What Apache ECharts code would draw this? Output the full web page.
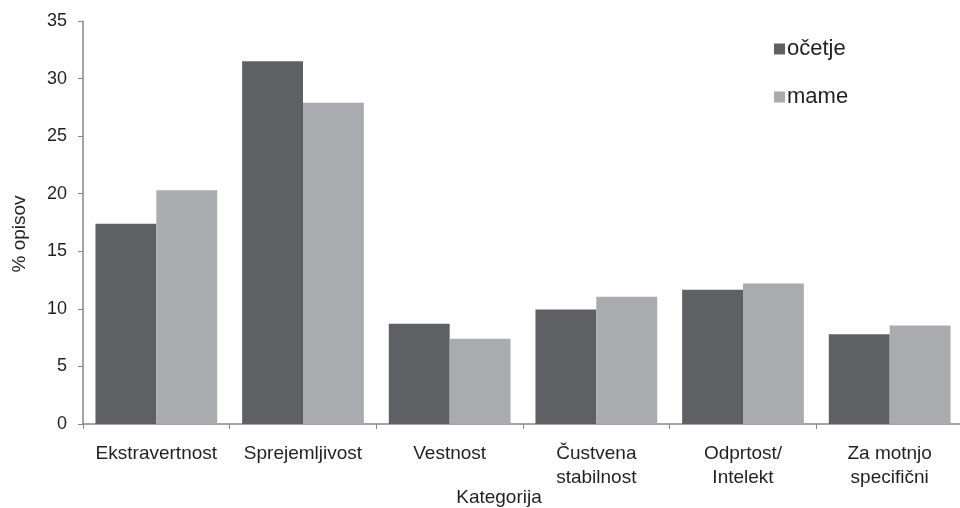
<!DOCTYPE html>
<html>
<head>
<meta charset="utf-8">
<script src="https://cdn.jsdelivr.net/npm/echarts@6/dist/echarts.min.js"></script>
<style>
html, body { margin: 0; padding: 0; background: #fff; }
#chart { width: 960px; height: 508px; }
</style>
</head>
<body>
<div id="chart"></div>
<script>
// categories and values
var categories = ['Ekstravertnost', 'Sprejemljivost', 'Vestnost', 'Čustvena\nstabilnost', 'Odprtost/\nIntelekt', 'Za motnjo\nspecifični'];
var ocetje = [17.4, 31.5, 8.7, 9.95, 11.65, 7.8];
var mame = [20.3, 27.9, 7.4, 11.05, 12.2, 8.55];
var yTicks = { min: 0, max: 35, interval: 5 };

var textColor = '#231f20';
var axisColor = '#868686';

var chart = echarts.init(document.getElementById('chart'));

var option = {
    animation: false,
    backgroundColor: '#fff',
    textStyle: { fontFamily: 'Liberation Sans, Arial, sans-serif' },
    grid: {
        left: 83,
        right: -3,
        top: 21,
        bottom: 84,
        containLabel: false,
        outerBoundsMode: 'none'
    },
    legend: {
        orient: 'vertical',
        left: 769,
        top: 33,
        itemWidth: 11,
        itemHeight: 11,
        itemGap: 26,
        icon: 'rect',
        textStyle: { fontSize: 22, color: textColor, padding: [0, 0, 0, -3] },
        data: ['očetje', 'mame']
    },
    xAxis: {
        type: 'category',
        data: categories,
        name: 'Kategorija',
        nameLocation: 'middle',
        nameGap: 64,
        nameMoveOverlap: false,
        nameTextStyle: { fontSize: 19, color: textColor, padding: [0, 48, 0, 0] },
        axisLine: { lineStyle: { color: axisColor, width: 1.5 } },
        axisTick: { show: true, alignWithLabel: false, length: 5, lineStyle: { color: axisColor } },
        axisLabel: {
            interval: 0,
            fontSize: 19,
            color: textColor,
            margin: 18,
            lineHeight: 24
        },
        splitLine: { show: false }
    },
    yAxis: {
        type: 'value',
        min: yTicks.min,
        max: yTicks.max,
        interval: yTicks.interval,
        name: '% opisov',
        nameLocation: 'middle',
        nameGap: 54,
        nameMoveOverlap: false,
        nameTextStyle: { fontSize: 19, color: textColor, padding: [0, 23, 0, 0] },
        axisLine: { show: true, lineStyle: { color: axisColor, width: 1.5 } },
        axisTick: { show: true, length: 5, lineStyle: { color: axisColor } },
        axisLabel: { fontSize: 18, color: textColor, margin: 16 },
        splitLine: { show: false }
    },
    series: [
        {
            name: 'očetje',
            type: 'bar',
            data: ocetje,
            barGap: '0%',
            barCategoryGap: '17%',
            itemStyle: { color: '#5f6064' }
        },
        {
            name: 'mame',
            type: 'bar',
            data: mame,
            barGap: '0%',
            barCategoryGap: '17%',
            itemStyle: { color: '#a9abaf' }
        }
    ]
};

chart.setOption(option);
window.addEventListener('resize', function () {
    chart.resize();
});
</script>
</body>
</html>
